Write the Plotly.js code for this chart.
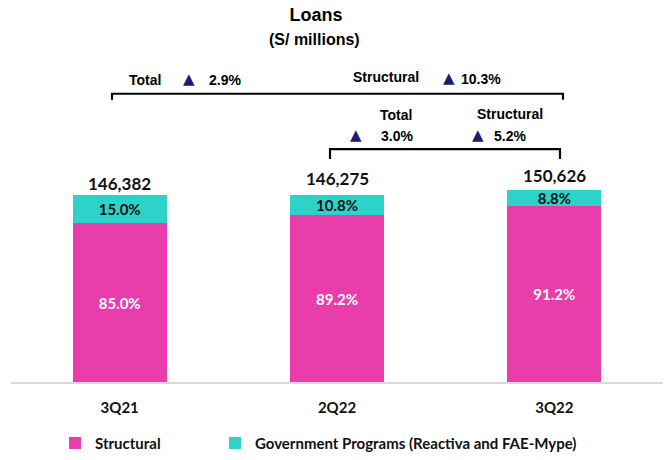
<!DOCTYPE html>
<html>
<head>
<meta charset="utf-8">
<script src="https://cdn.plot.ly/plotly-3.0.1.min.js"></script>
<style>html,body{margin:0;padding:0;background:#fff;}#chart{width:668px;height:460px;}</style>
</head>
<body>
<div id="chart"></div>
<script>
// ---- data ----
const categories = ['3Q21', '2Q22', '3Q22'];
const totals = [146382, 146275, 150626];
const structuralPct = [85.0, 89.2, 91.2];
const governmentPct = [15.0, 10.8, 8.8];
const seriesNames = ['Structural', 'Government Programs (Reactiva and FAE-Mype)'];
const yoyGrowth = {total: '2.9%', structural: '10.3%'};   // 3Q22 vs 3Q21
const qoqGrowth = {total: '3.0%', structural: '5.2%'};    // 3Q22 vs 2Q22

// ---- derived ----
const structuralVals = totals.map((t, i) => t * structuralPct[i] / 100);
const governmentVals = totals.map((t, i) => t * governmentPct[i] / 100);
const fmtPct = v => v.toFixed(1) + '%';
const fmtNum = v => v.toLocaleString('en-US');

// ---- layout helpers (pixel -> paper) ----
const W = 668, H = 460, L = 11, R = 5, T = 0, B = 73;
const PW = W - L - R, PH = H - T - B;
const px = x => (x - L) / PW;
const py = y => (H - B - y) / PH;

const PINK = '#E83DAB', TEAL = '#2DD3C9', NAVY = '#1B1B70';
const labelFont = 'Lato, "Open Sans", sans-serif';
const arial = '"Liberation Sans", Arial, sans-serif';

const traces = [
  {
    type: 'bar', name: seriesNames[0], x: categories, y: structuralVals,
    marker: {color: PINK}, legend: 'legend',
    text: structuralPct.map(fmtPct), textposition: 'inside', insidetextanchor: 'middle',
    textangle: 0, constraintext: 'none',
    textfont: {family: labelFont, size: 15, color: '#ffffff', weight: 'bold'},
    hoverinfo: 'skip'
  },
  {
    type: 'bar', name: seriesNames[1], x: categories, y: governmentVals,
    marker: {color: TEAL}, legend: 'legend2',
    text: governmentPct.map(fmtPct), textposition: 'inside', insidetextanchor: 'middle',
    textangle: 0, constraintext: 'none',
    textfont: {family: labelFont, size: 15, color: '#111111', weight: 'bold'},
    hoverinfo: 'skip'
  }
];

const annotations = [];
// totals above bars
const totalShift = [-1, 4, 2];
categories.forEach((c, i) => {
  annotations.push({
    x: c, y: totals[i], xref: 'x', yref: 'y', text: fmtNum(totals[i]),
    showarrow: false, yanchor: 'bottom', yshift: totalShift[i],
    font: {family: labelFont, size: 17, color: '#111', weight: 'bold'}
  });
});
// subtitle
annotations.push({x: px(314), y: py(40), xref: 'paper', yref: 'paper', text: '(S/ millions)',
  showarrow: false, xanchor: 'center', yanchor: 'middle',
  font: {family: arial, size: 16, color: '#000', weight: 'bold'}});

function txt(x, y, t, color) {
  annotations.push({x: px(x), y: py(y), xref: 'paper', yref: 'paper', text: t,
    showarrow: false, xanchor: 'center', yanchor: 'middle',
    font: {family: arial, size: 14, color: color || '#000', weight: 'bold'}});
}
function tri(x, y) {
  annotations.push({x: px(x), y: py(y), xref: 'paper', yref: 'paper', text: '▲',
    showarrow: false, xanchor: 'center', yanchor: 'middle',
    font: {family: '"DejaVu Sans", sans-serif', size: 15, color: NAVY}});
}
// year-over-year bracket labels
txt(145, 81, 'Total'); tri(189, 80); txt(225, 81, yoyGrowth.total);
txt(386, 78, 'Structural'); tri(449, 79); txt(481, 80, yoyGrowth.structural);
// quarter-over-quarter bracket labels
txt(396, 117, 'Total'); txt(510, 115, 'Structural');
tri(356, 137); txt(397, 138, qoqGrowth.total);
tri(478, 137); txt(510, 138, qoqGrowth.structural);

function bracket(x1, x2, y, drop) {
  return {type: 'path', xref: 'paper', yref: 'paper',
    path: `M ${px(x1)},${py(y + drop)} L ${px(x1)},${py(y)} L ${px(x2)},${py(y)} L ${px(x2)},${py(y + drop)}`,
    line: {color: '#000', width: 2.2}};
}

const legendBase = {orientation: 'h', xanchor: 'left', y: py(449), yanchor: 'middle',
  font: {family: labelFont, size: 15, color: '#111', weight: 'bold'},
  itemwidth: 30, bgcolor: 'rgba(0,0,0,0)'};

const layout = {
  width: W, height: H,
  margin: {l: L, r: R, t: T, b: B, pad: 0},
  paper_bgcolor: '#fff', plot_bgcolor: '#fff',
  barmode: 'stack', bargap: 0.567,
  title: {text: 'Loans', x: px(316), xref: 'paper', xanchor: 'center',
    y: 1 - 15 / H, yref: 'container', yanchor: 'middle',
    font: {family: arial, size: 18, color: '#000', weight: 'bold'}},
  xaxis: {type: 'category', showline: true, linecolor: '#d9d9d9', linewidth: 1.5,
    ticks: '', showgrid: false, zeroline: false, ticklabelstandoff: 11,
    tickfont: {family: labelFont, size: 15, color: '#111', weight: 'bold'},
    fixedrange: true},
  yaxis: {range: [0, 298934], visible: false, showgrid: false, zeroline: false, fixedrange: true},
  showlegend: true,
  legend: Object.assign({}, legendBase, {x: px(55)}),
  legend2: Object.assign({}, legendBase, {x: px(215)}),
  annotations: annotations,
  shapes: [bracket(112, 563, 95, 6), bracket(330, 560, 151, 10)]
};

Plotly.newPlot('chart', traces, layout, {displayModeBar: false, staticPlot: true});
</script>
</body>
</html>
